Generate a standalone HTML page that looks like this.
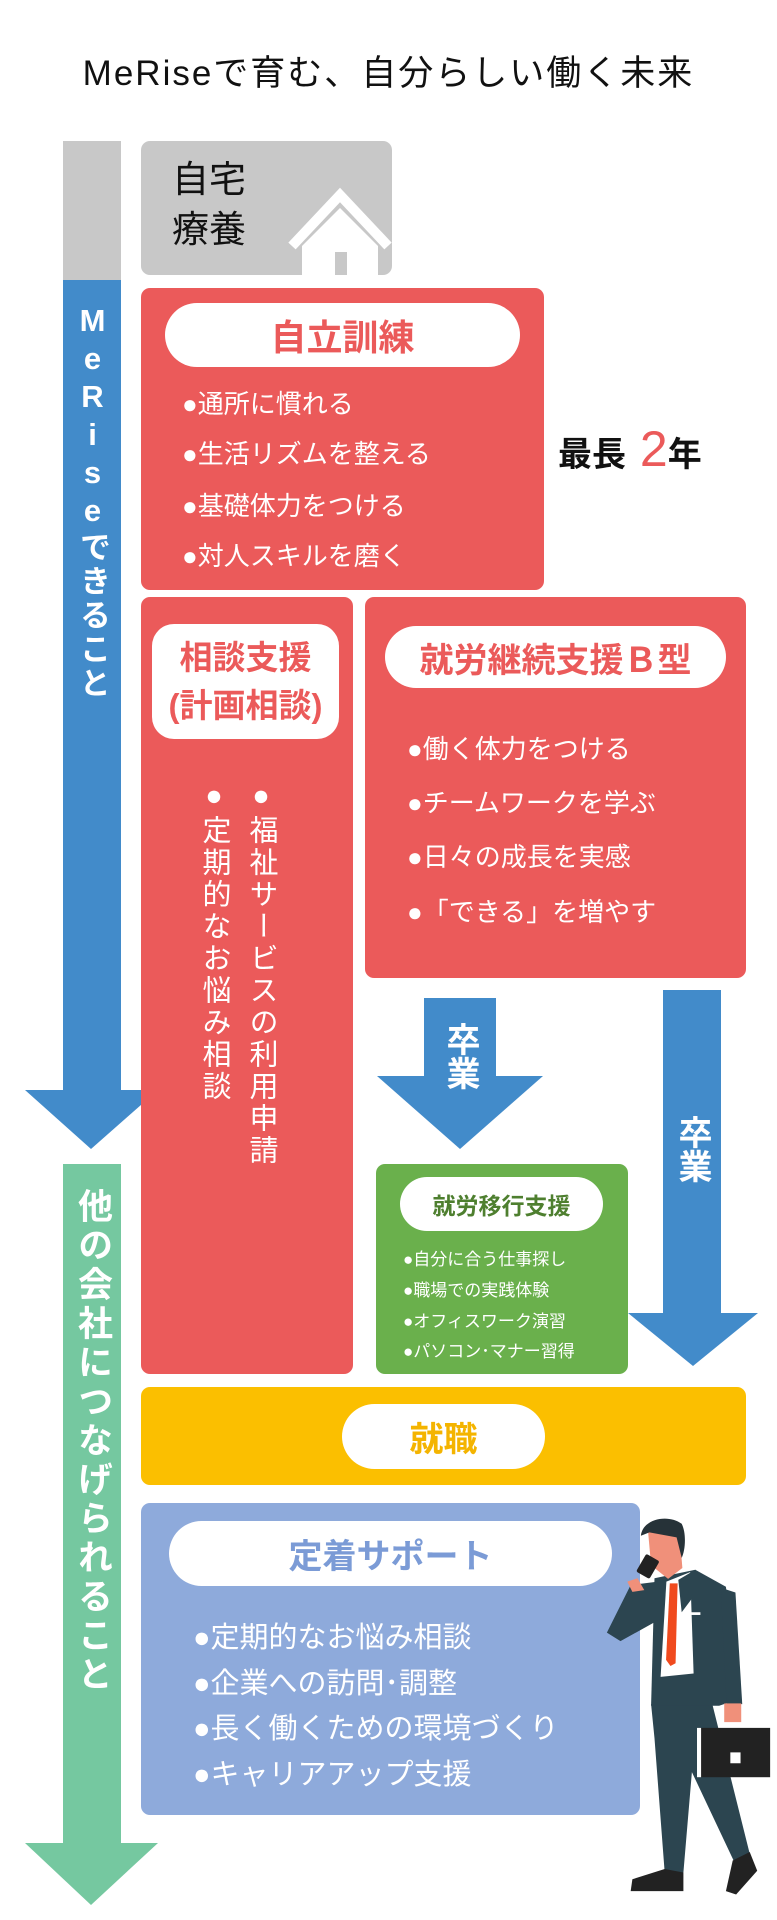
<!DOCTYPE html>
<html><head><meta charset="utf-8"><style>
*{margin:0;padding:0;box-sizing:border-box}
body{width:777px;height:1920px;background:#fff;position:relative;overflow:hidden;font-family:"Liberation Sans","Noto Sans CJK JP",sans-serif}
.a{position:absolute}
.box{position:absolute;border-radius:9px}
.pill{position:absolute;background:#fff;border-radius:40px;display:flex;align-items:center;justify-content:center;font-weight:bold}
.li{position:absolute;color:#fff;font-size:26px;white-space:nowrap}
.vt{position:absolute;writing-mode:vertical-rl;text-orientation:upright;white-space:nowrap}
</style></head><body>
<div class="a" style="left:0;width:777px;top:45px;text-align:center;font-size:35px;letter-spacing:2px;color:#111">MeRiseで育む、自分らしい働く未来</div>

<!-- left bars -->
<div class="a" style="left:63px;top:141px;width:58px;height:139px;background:#c8c8c8"></div>
<div class="a" style="left:63px;top:280px;width:58px;height:812px;background:#428bca"></div>
<svg class="a" style="left:0;top:1090px" width="180" height="62"><polygon points="25,0 158,0 91,59" fill="#428bca"/></svg>
<div class="vt" style="left:66px;top:303px;width:52px;font-size:31px;color:#fff;font-weight:bold;letter-spacing:3px;line-height:52px">MeRiseできること</div>

<div class="a" style="left:63px;top:1164px;width:58px;height:681px;background:#75c8a0"></div>
<svg class="a" style="left:0;top:1843px" width="180" height="64"><polygon points="25,0 158,0 91,62" fill="#75c8a0"/></svg>
<div class="vt" style="left:64px;top:1188px;width:56px;font-size:35px;color:#fff;font-weight:bold;letter-spacing:4px;line-height:56px">他の会社につなげられること</div>

<!-- home -->
<div class="box" style="left:141px;top:141px;width:251px;height:134px;background:#c8c8c8"></div>
<div class="a" style="left:172px;top:155px;font-size:37px;line-height:50px;color:#111">自宅<br>療養</div>
<svg class="a" style="left:280px;top:180px" width="115" height="95">
<polyline points="12,66 60,15 108,66" fill="none" stroke="#fff" stroke-width="10"/>
<polygon points="22,66 60,28 98,66 98,95 22,95" fill="#fff"/>
<rect x="55" y="72" width="12" height="23" fill="#c8c8c8"/>
</svg>

<!-- 自立訓練 -->
<div class="box" style="left:141px;top:288px;width:403px;height:302px;background:#eb5a5a"></div>
<div class="pill" style="left:165px;top:303px;width:355px;height:64px;color:#eb5a5a;font-size:36px">自立訓練</div>
<div class="li" style="left:182px;top:384px">●通所に慣れる</div>
<div class="li" style="left:182px;top:434px">●生活リズムを整える</div>
<div class="li" style="left:182px;top:486px">●基礎体力をつける</div>
<div class="li" style="left:182px;top:536px">●対人スキルを磨く</div>
<div class="a" style="left:558px;top:420px;font-size:34px;font-weight:bold;color:#111;white-space:nowrap">最長<span style="color:#eb5a5a;font-size:50px;font-weight:normal"> 2</span>年</div>

<!-- 相談支援 -->
<div class="box" style="left:141px;top:597px;width:212px;height:777px;background:#eb5a5a"></div>
<div class="pill" style="left:152px;top:624px;width:187px;height:115px;border-radius:22px;color:#eb5a5a;font-size:33px;line-height:48px;text-align:center;flex-direction:column">相談支援<span>(計画相談)</span></div>
<div class="vt" style="left:243px;top:780px;font-size:29px;color:#fff;letter-spacing:3px;line-height:36px">●福祉サービスの利用申請</div>
<div class="vt" style="left:196px;top:780px;font-size:29px;color:#fff;letter-spacing:3px;line-height:36px">●定期的なお悩み相談</div>

<!-- B型 -->
<div class="box" style="left:365px;top:597px;width:381px;height:381px;background:#eb5a5a"></div>
<div class="pill" style="left:385px;top:626px;width:341px;height:62px;color:#eb5a5a;font-size:34px">就労継続支援Ｂ型</div>
<div class="li" style="left:407px;top:729px">●働く体力をつける</div>
<div class="li" style="left:407px;top:783px">●チームワークを学ぶ</div>
<div class="li" style="left:407px;top:837px">●日々の成長を実感</div>
<div class="li" style="left:407px;top:892px">●「できる」を増やす</div>

<!-- arrows 卒業 -->
<svg class="a" style="left:370px;top:990px" width="400" height="380">
<rect x="54" y="8" width="72" height="80" fill="#428bca"/>
<polygon points="7,86 173,86 90,159" fill="#428bca"/>
<rect x="293" y="0" width="58" height="325" fill="#428bca"/>
<polygon points="258,323 388,323 323,376" fill="#428bca"/>
</svg>
<div class="vt" style="left:440px;top:1022px;width:40px;font-size:34px;font-weight:bold;color:#fff;line-height:40px">卒業</div>
<div class="vt" style="left:672px;top:1115px;width:40px;font-size:34px;font-weight:bold;color:#fff;line-height:40px">卒業</div>

<!-- 就労移行支援 -->
<div class="box" style="left:376px;top:1164px;width:252px;height:210px;background:#6ab04c"></div>
<div class="pill" style="left:400px;top:1177px;width:203px;height:54px;color:#4e7f2f;font-size:23px">就労移行支援</div>
<div class="li" style="left:403px;top:1245px;font-size:17px">●自分に合う仕事探し</div>
<div class="li" style="left:403px;top:1276px;font-size:17px">●職場での実践体験</div>
<div class="li" style="left:403px;top:1307px;font-size:17px">●オフィスワーク演習</div>
<div class="li" style="left:403px;top:1337px;font-size:17px">●パソコン･マナー習得</div>

<!-- 就職 -->
<div class="box" style="left:141px;top:1387px;width:605px;height:98px;background:#fbbf00"></div>
<div class="pill" style="left:342px;top:1404px;width:203px;height:65px;color:#f4b400;font-size:34px">就職</div>

<!-- 定着サポート -->
<div class="box" style="left:141px;top:1503px;width:499px;height:312px;background:#8eaadb"></div>
<div class="pill" style="left:169px;top:1521px;width:443px;height:65px;color:#7b9bd6;font-size:34px">定着サポート</div>
<div class="li" style="left:193px;top:1614px;font-size:29px">●定期的なお悩み相談</div>
<div class="li" style="left:193px;top:1660px;font-size:29px">●企業への訪問･調整</div>
<div class="li" style="left:193px;top:1705px;font-size:29px">●長く働くための環境づくり</div>
<div class="li" style="left:193px;top:1751px;font-size:29px">●キャリアアップ支援</div>

<!-- businessman -->
<svg class="a" style="left:600px;top:1500px" width="177" height="400" viewBox="0 0 520 1176">
<polygon points="150,600 330,600 440,1040 395,1065 270,800 245,1095 190,1095 160,700" fill="#2c4550"/>
<polygon points="95,1115 190,1085 245,1095 245,1150 90,1150" fill="#222"/>
<polygon points="390,1060 440,1035 462,1090 400,1160 370,1150" fill="#222"/>
<polygon points="160,230 280,205 370,255 410,585 350,605 150,605" fill="#2c4550"/>
<polygon points="90,250 170,240 195,340 60,415 20,390" fill="#2c4550"/>
<polygon points="195,240 265,212 275,510 178,520" fill="#fff"/>
<polygon points="205,245 228,245 222,480 207,488 194,470" fill="#f04a1e"/>
<polygon points="230,235 280,205 300,250 240,330" fill="#2c4550"/>
<polygon points="355,258 398,272 418,600 372,600" fill="#2c4550"/>
<rect x="365" y="598" width="50" height="55" fill="#f0907a"/>
<polygon points="140,80 232,78 242,200 200,232 150,192" fill="#f0907a"/>
<path d="M120,105 C125,55 200,40 240,70 C255,100 250,150 240,170 L225,110 L145,95 Z" fill="#263238"/>
<rect x="118" y="165" width="45" height="60" rx="6" fill="#222" transform="rotate(30 140 195)"/>
<polygon points="80,240 110,230 130,265 95,270" fill="#f0907a"/>
<rect x="265" y="330" width="30" height="8" fill="#fff"/>
<rect x="285" y="670" width="215" height="145" fill="#222"/>
<rect x="285" y="670" width="12" height="145" fill="#fff"/>
<rect x="383" y="742" width="30" height="32" fill="#fff"/>
</svg>
</body></html>
